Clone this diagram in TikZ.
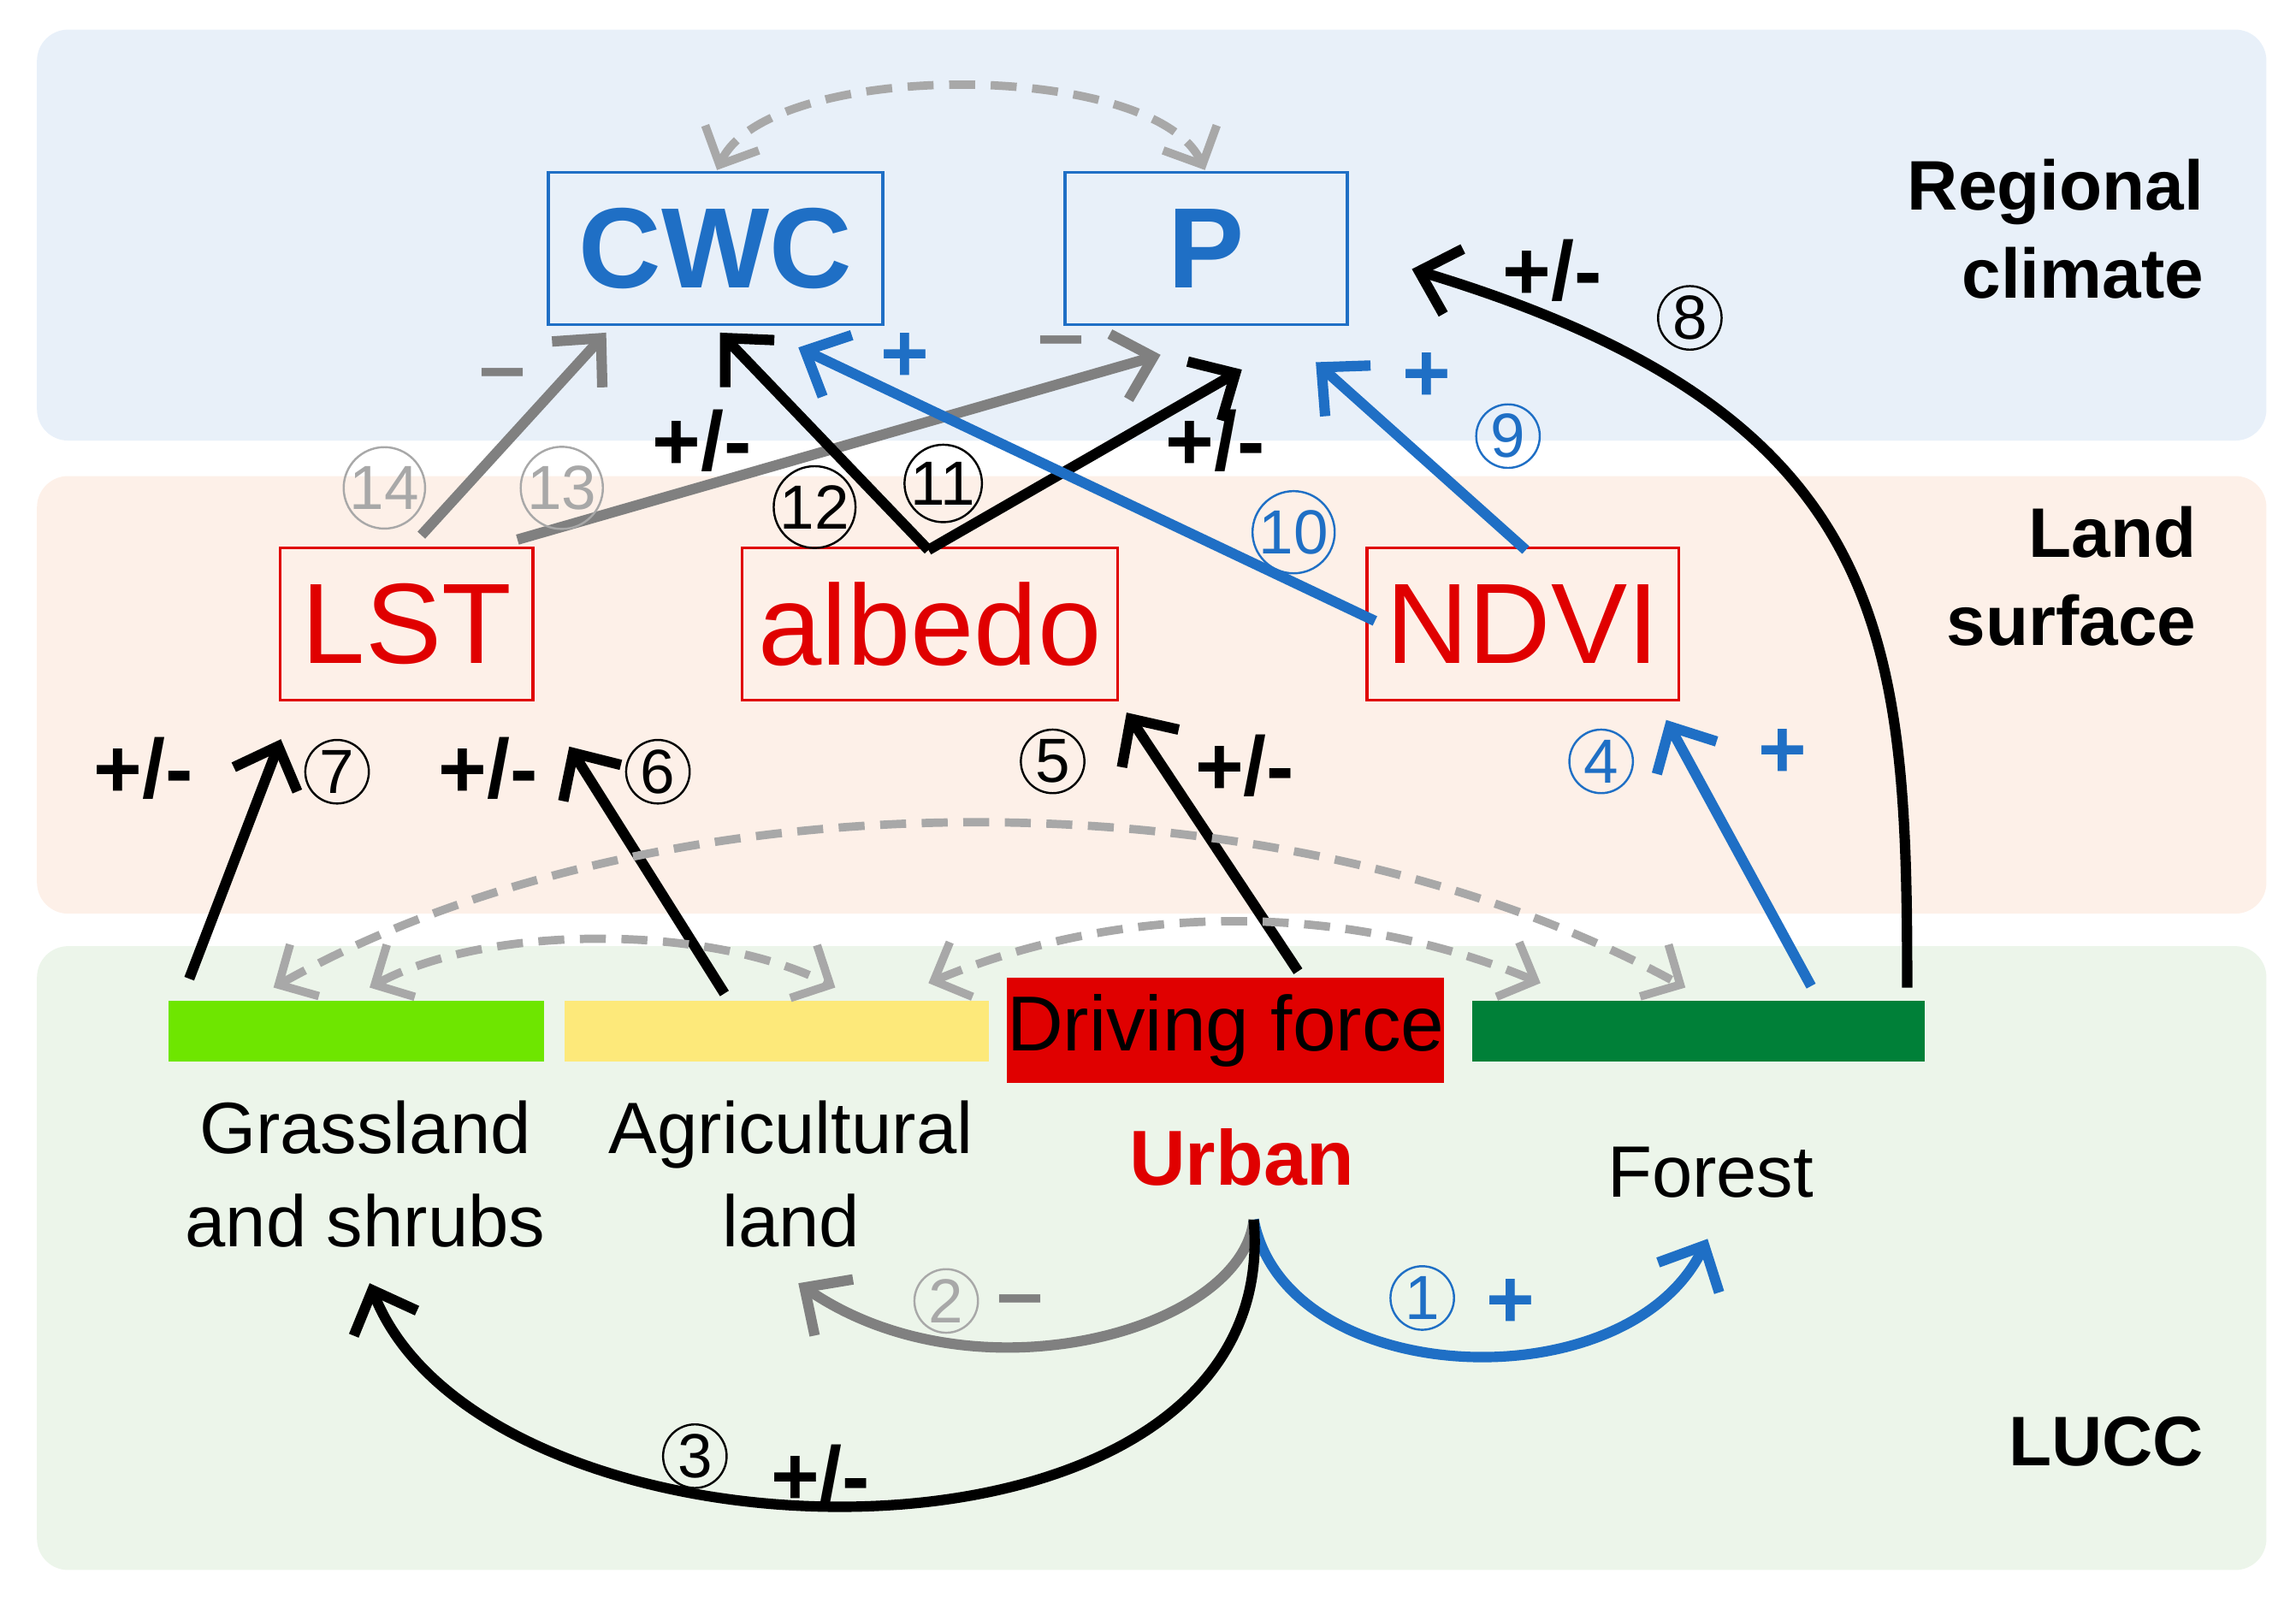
\documentclass[tikz,border=0pt]{standalone}
\usepackage{fontspec}
\setmainfont{Liberation Sans}
\usetikzlibrary{arrows.meta}
\definecolor{bblue}{HTML}{1F6FC5}
\definecolor{rred}{HTML}{E00000}
\definecolor{gr}{HTML}{808080}
\definecolor{lgr}{HTML}{A8A8A8}
\begin{document}
\begin{tikzpicture}[x=0.1mm,y=-0.1mm,
  ar/.style={line width=2pt,-{Straight Barb[length=2.4mm,width=4.6mm,line width=2pt]}},
  dar/.style={line width=1.6pt,dashed,dash pattern=on 5pt off 3pt,lgr,{Straight Barb[length=2mm,width=4mm]}-{Straight Barb[length=2mm,width=4mm]}},
  box/.style={draw,line width=0.6pt,inner sep=0},
  circ/.style={circle,draw,minimum size=4.3mm,inner sep=0,font=\fontsize{12}{12}\selectfont},
  pm/.style={font=\bfseries\fontsize{16}{16}\selectfont},
  lab/.style={font=\fontsize{14}{18}\selectfont,align=center},
  rl/.style={font=\bfseries\fontsize{13.5}{17}\selectfont,align=right,anchor=east}]
\useasboundingbox (0,0) rectangle (1553,1080);
\fill[fill={rgb,255:red,232;green,240;blue,249},rounded corners=6pt] (25,20) rectangle (1533,298);
\fill[fill={rgb,255:red,253;green,240;blue,232},rounded corners=6pt] (25,322) rectangle (1533,618);
\fill[fill={rgb,255:red,236;green,245;blue,234},rounded corners=6pt] (25,640) rectangle (1533,1062);
% boxes
\node[box,draw=bblue,text=bblue,font=\bfseries\fontsize{22}{22}\selectfont,minimum width=22.6mm,minimum height=10.3mm] (cwc) at (484,168) {CWC};
\node[box,draw=bblue,text=bblue,font=\bfseries\fontsize{22}{22}\selectfont,minimum width=19.1mm,minimum height=10.3mm] (p) at (816,168) {P};
\node[box,draw=rred,text=rred,font=\fontsize{22}{22}\selectfont,minimum width=17.1mm,minimum height=10.3mm] (lst) at (275,422) {LST};
\node[box,draw=rred,text=rred,font=\fontsize{22}{22}\selectfont,minimum width=25.4mm,minimum height=10.3mm] (alb) at (629,422) {albedo};
\node[box,draw=rred,text=rred,font=\fontsize{22}{22}\selectfont,minimum width=21.1mm,minimum height=10.3mm] (ndvi) at (1030,422) {NDVI};
% bars
\fill[fill={rgb,255:red,110;green,230;blue,0}] (114,677) rectangle (368,718);
\fill[fill={rgb,255:red,253;green,233;blue,122}] (382,677) rectangle (669,718);
\node[fill=rred,minimum width=28.8mm,minimum height=7.1mm,inner sep=0,font=\fontsize{15}{15}\selectfont] (df) at (829,697) {Driving force};
\fill[fill={rgb,255:red,0;green,128;blue,56}] (996,677) rectangle (1302,718);
\coordinate (g) at (128,662); \coordinate (a) at (490,672); \coordinate (f) at (1225,667); \coordinate (f2) at (1290,668);
\coordinate (dfo) at (878,657);
\node[lab] (gl) at (247,794) {Grassland\\and shrubs};
\node[lab] (al) at (535,794) {Agricultural\\land};
\node[font=\bfseries\fontsize{15}{15}\selectfont,text=rred] (urb) at (840,783) {Urban};
\node[lab] (fo) at (1157,793) {Forest};
\node[rl] at (1503,155) {Regional\\climate};
\node[rl] at (1498,390) {Land\\surface};
\node[rl] at (1503,975) {LUCC};
% top dashed
\draw[dar] (485,115) .. controls (520,40) and (780,40) .. (815,115);
% gray
\draw[ar,gr] (285,362) -- (410,225);
\draw[ar,gr] (350,365) -- (785,240);
\node[pm,gr] at (340,258) {--}; \node[circ,text=lgr,draw=lgr] at (260,330) {14};
\node[pm,gr] at (718,236) {--}; \node[circ,text=lgr,draw=lgr] at (380,330) {13};
% black from albedo
\draw[ar] (628,372) -- (487,225);
\draw[ar] (628,372) -- (840,250);
\node[pm] at (475,298) {+/-}; \node[circ] at (551,343) {12};
\node[pm] at (822,298) {+/-}; \node[circ] at (638,327) {11};
% blue
\draw[ar,bblue] (930,420) -- (540,235);
\draw[ar,bblue] (1032,372) -- (890,245);
\node[pm,bblue] at (612,242) {+}; \node[circ,bblue] at (875,360) {10};
\node[pm,bblue] at (965,255) {+}; \node[circ,bblue] at (1020,295) {9};
% 8
\draw[ar] (f2) .. controls (1290,430) and (1280,280) .. (955,182);
\node[pm] at (1050,183) {+/-}; \node[circ] at (1143,215) {8};
% LUCC to land surface
\draw[ar] (g) -- (190,500);
\node[pm] at (97,520) {+/-}; \node[circ] at (228,522) {7};
\draw[ar] (a) -- (385,505);
\node[pm] at (330,520) {+/-}; \node[circ] at (445,522) {6};
\draw[ar] (dfo) -- (762,482);
\node[circ] at (712,515) {5}; \node[pm] at (842,518) {+/-};
\draw[ar,bblue] (f) -- (1127,487);
\node[circ,bblue] at (1083,515) {4}; \node[pm,bblue] at (1206,510) {+};
% dashed LUCC arcs
\draw[dar] (250,668) .. controls (330,625) and (480,625) .. (565,668);
\draw[dar] (185,668) .. controls (450,520) and (870,520) .. (1140,668);
\draw[dar] (628,665) .. controls (760,610) and (910,610) .. (1042,665);
% bottom arrows
\coordinate (u) at (848,825);
\draw[ar,gr] (u) .. controls (840,900) and (660,950) .. (540,868);
\node[circ,text=lgr,draw=lgr] at (640,880) {2}; \node[pm,gr] at (690,885) {--};
\draw[ar,bblue] (u) .. controls (870,940) and (1100,950) .. (1155,838);
\node[circ,bblue] at (962,878) {1}; \node[pm,bblue] at (1022,882) {+};
\draw[ar] (u) .. controls (870,1080) and (330,1070) .. (250,868);
\node[pm] at (555,998) {+/-}; \node[circ] at (470,985) {3};
\end{tikzpicture}
\end{document}
